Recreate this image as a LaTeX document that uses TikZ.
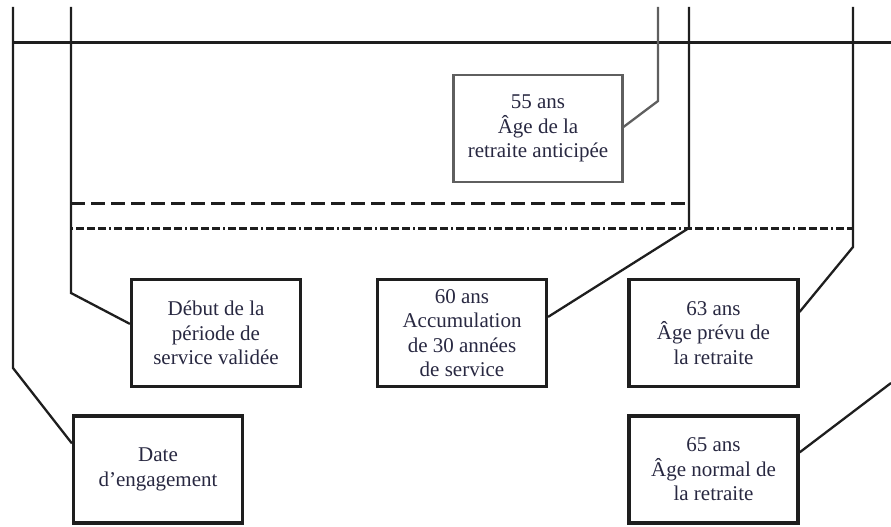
\documentclass[tikz,border=0pt]{standalone}
\usepackage{fontspec}
\setmainfont{Liberation Serif}
\usetikzlibrary{calc}
\definecolor{ink}{RGB}{30,30,30}
\definecolor{txt}{RGB}{40,40,65}
\definecolor{lightink}{RGB}{95,95,95}
\tikzset{
  box/.style={draw=ink, line width=3.2pt, minimum width=169pt, minimum height=107pt,
    inner sep=0pt, align=center, text=txt,
    font=\fontsize{21}{24.5}\selectfont},
  lightbox/.style={box, draw=lightink, line width=2.2pt},
  conn/.style={draw=ink, line width=2.3pt},
  axis/.style={draw=ink, line width=3pt},
  dashline/.style={draw=ink, line width=3pt, dash pattern=on 14pt off 6pt},
  dotdashline/.style={draw=ink, line width=3pt,
    dash pattern=on 2pt off 3pt on 8pt off 3pt on 8pt off 3pt on 8pt off 3pt}
}
\begin{document}
\begin{tikzpicture}[x=1pt,y=-1pt]
\useasboundingbox (0,0) rectangle (891,527);

% boxes
\node[box] (date) at (158,469.5) {Date\\d'engagement};
\node[box] (debut) at (216,333) {Début de la\\période de\\service validée};
\node[box] (sixty) at (462,333) {60 ans\\Accumulation\\de 30 années\\de service};
\node[box] (sixtythree) at (713.5,333) {63 ans\\Âge prévu de\\la retraite};
\node[box] (sixtyfive) at (713.5,469.5) {65 ans\\Âge normal de\\la retraite};
\node[lightbox] (early) at (538,128.5) {55 ans\\Âge de la\\retraite anticipée};

% timeline axes
\coordinate (h0) at (12,43);
\coordinate (h1) at (891,43);
\draw[axis] (h0) -- (h1);

\coordinate (d0) at (71,203);
\coordinate (d1) at (690,203);
\draw[dashline] (d0) -- (d1);

\coordinate (e0) at (71,228);
\coordinate (e1) at (853,228);
\draw[dotdashline] (e0) -- (e1);

% connectors
\coordinate (a0) at (13,7);
\coordinate (a1) at (13,368);
\draw[conn] (a0) -- (a1) -- ([yshift=-29pt]date.north west);

\coordinate (b0) at (71,7);
\coordinate (b1) at (71,293);
\draw[conn] (b0) -- (b1) -- ([yshift=-46pt]debut.north west);

\coordinate (c0) at (658,7);
\coordinate (c1) at (658,101);
\draw[conn, draw=lightink] (c0) -- (c1) -- ([yshift=-53pt]early.north east);

\coordinate (f0) at (689,7);
\coordinate (f1) at (689,228);
\draw[conn] (f0) -- (f1) -- ([yshift=-39pt]sixty.north east);

\coordinate (g0) at (853,7);
\coordinate (g1) at (853,247);
\draw[conn] (g0) -- (g1) -- ([yshift=-34pt]sixtythree.north east);

\coordinate (k0) at (891,383);
\draw[conn] (k0) -- ([yshift=-38pt]sixtyfive.north east);
\end{tikzpicture}
\end{document}
